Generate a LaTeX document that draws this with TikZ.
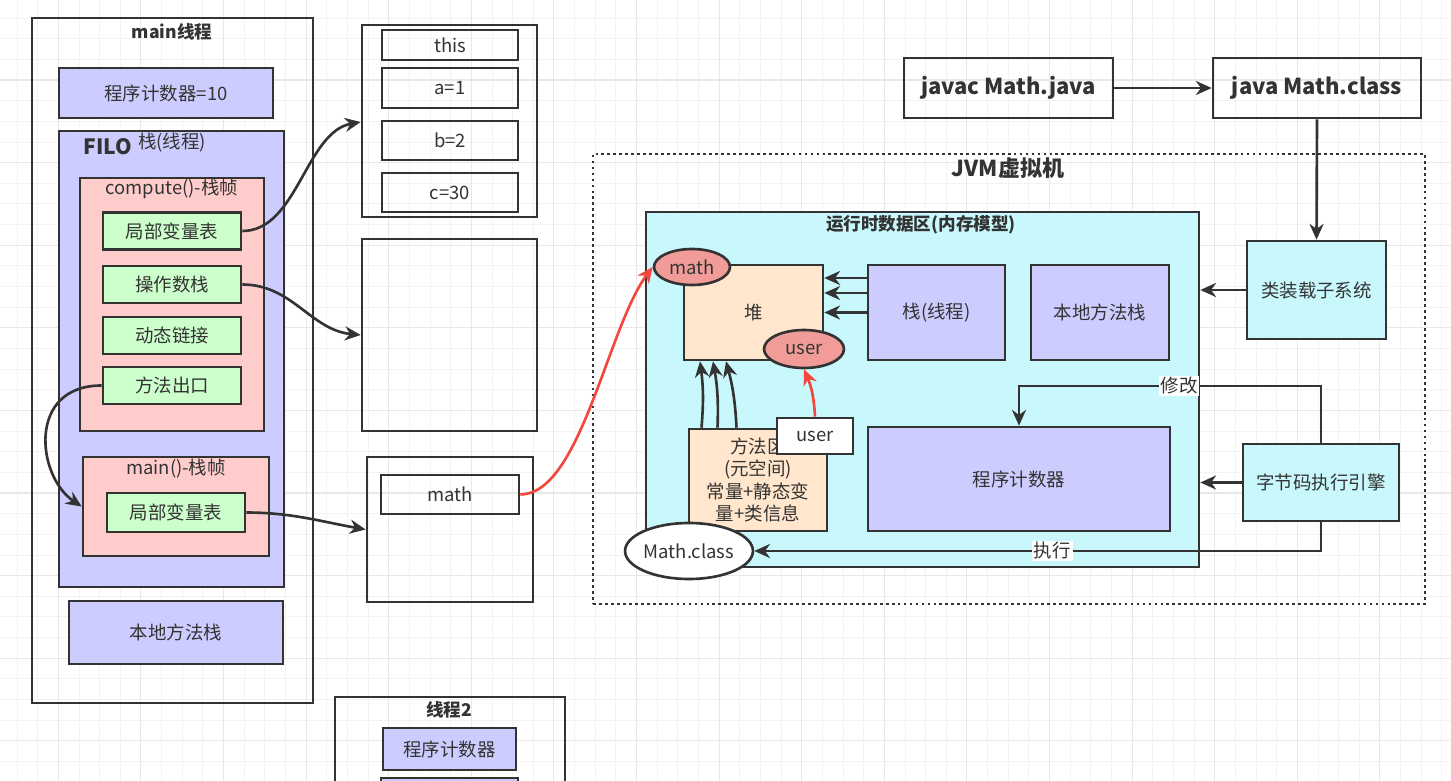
\documentclass[tikz,border=0pt]{standalone}
\usepackage{fontspec}
\setmainfont{Noto Sans CJK SC}
\usetikzlibrary{arrows.meta,shapes.geometric}
\definecolor{ink}{HTML}{333333}
\definecolor{lav}{HTML}{CCCCFF}
\definecolor{pnk}{HTML}{FFCCCC}
\definecolor{grn}{HTML}{CCFFCC}
\definecolor{cyn}{HTML}{C8F8FC}
\definecolor{pch}{HTML}{FFE6CC}
\definecolor{slm}{HTML}{F19C99}
\definecolor{redc}{HTML}{F4473B}
\definecolor{gmin}{HTML}{F3F3F3}
\definecolor{gmaj}{HTML}{E8E8E8}

\begin{document}
\begin{tikzpicture}[x=0.02cm,y=-0.02cm,line width=1.5pt,>={Stealth[length=9pt,width=8pt]},
  wh/.style 2 args={minimum width=#1*0.02cm,minimum height=#2*0.02cm},
  box/.style={draw=ink,text=ink,font=\fontsize{10.5}{12}\selectfont,inner sep=0pt},
  oval/.style={box,ellipse},
  lbl/.style={text=ink,font=\fontsize{10.5}{12}\selectfont,inner sep=0pt},
  ttl/.style={text=ink,font=\bfseries\fontsize{10}{12}\selectfont,inner sep=0pt},
  bigttl/.style={text=ink,font=\bfseries\fontsize{12.5}{14}\selectfont},
  tag/.style={lbl,fill=white,inner sep=1pt},
  conn/.style={draw=ink,->},
  redconn/.style={draw=redc,->}]
\clip (0,0) rectangle (1451,781);
\fill[white] (0,0) rectangle (1451,781);
% grid
\foreach \k in {0,...,70}{\draw[gmin,line width=0.5pt] ({17+20.65*\k},0) -- ++(0,781);};
\foreach \k in {0,...,38}{\draw[gmin,line width=0.5pt] (0,{-2.6+20.65*\k}) -- ++(1451,0);};
\foreach \k in {0,...,17}{\draw[gmaj,line width=0.6pt] ({58.3+82.6*\k},0) -- ++(0,781);};
\foreach \k in {0,...,9}{\draw[gmaj,line width=0.6pt] (0,{-2.6+82.6*\k}) -- ++(1451,0);};

% main thread
\node[box,wh={281}{685}] (mainth) at (172.5,360.5) {};
\node[ttl] (mainttl) at (172,32) {main线程};
\node[box,fill=lav,wh={214}{50}] (pcten) at (166,93) {程序计数器=10};
\node[box,fill=lav,wh={225}{456}] (stk) at (171.5,359) {};
\node[ttl,font=\bfseries\fontsize{12}{14}\selectfont] (filo) at (108,147) {FILO};
\node[lbl] (stkttl) at (172,143) {栈(线程)};
\node[box,fill=pnk,wh={184}{253}] (cframe) at (172,304.5) {};
\node[lbl] (cttl) at (172,189) {compute()-栈帧};
\foreach \n/\t/\y in {lvt/局部变量表/231,ops/操作数栈/284.5,dyn/动态链接/335.5,ret/方法出口/385.5}
  \node[box,fill=grn,wh={138}{37}] (\n) at (172,\y) {\t};
\node[box,fill=pnk,wh={186}{99}] (mframe) at (176,506.5) {};
\node[lbl] (mttl) at (176,469) {main()-栈帧};
\node[box,fill=grn,wh={138}{39}] (mlvt) at (176,512.5) {局部变量表};
\node[box,fill=lav,wh={214}{63}] (natv) at (176,632.5) {本地方法栈};

% frames contents
\node[box,wh={175}{192}] (vars) at (449.5,121) {};
\foreach \n/\t/\y/\h in {vthis/this/45/30,va/a=1/88/40,vb/b=2/140.5/39,vc/c=30/192.5/39}
  \node[box,wh={136}{\h}] (\n) at (450,\y) {\t};
\node[box,wh={175}{192}] (opsbox) at (449.5,335) {};
\node[box,wh={166}{145}] (refbox) at (450,529.5) {};
\node[box,wh={138}{39}] (mref) at (450,494.5) {math};

% thread 2
\node[box,wh={230}{110}] (thrtwo) at (450,752) {};
\node[ttl] (thrttl) at (449,710) {线程2};
\node[box,fill=lav,wh={133}{42}] (pctwo) at (449.5,749) {程序计数器};
\node[box,fill=lav,wh={137}{44}] (stktwo) at (449.5,800) {};

% JVM
\node[draw=ink,dash pattern=on 1.6pt off 1.8pt,line width=1.4pt,wh={832}{450}] (jvm) at (1009,379) {};
\node[ttl,font=\bfseries\fontsize{12.5}{14}\selectfont] (jvmttl) at (1008,168) {JVM虚拟机};
\node[box,fill=cyn,wh={553}{355}] (rda) at (922.5,389.5) {};
\node[ttl] (rdattl) at (921,225) {运行时数据区(内存模型)};
\node[box,fill=pch,wh={139}{95}] (heap) at (753.5,312.5) {堆};
\node[oval,fill=slm,wh={76}{36}] (mathe) at (692,267) {math};
\node[oval,fill=slm,wh={80}{38}] (usere) at (804,349) {user};
\node[box,fill=lav,wh={137}{95}] (tstk) at (936.5,312.5) {栈(线程)};
\node[box,fill=lav,wh={138}{95}] (nstk) at (1100,312.5) {本地方法栈};
\node[box,fill=pch,wh={138}{102},align=center,font=\fontsize{10.5}{12.6}\selectfont] (meta) at (758,480) {方法区\\(元空间)\\常量+静态变\\量+类信息};
\node[box,fill=white,wh={76}{36}] (userb) at (815,436) {user};
\node[box,fill=lav,wh={302}{104}] (pc) at (1019,479) {程序计数器};
\node[oval,fill=white,wh={124}{56}] (mclass) at (689,551) {Math.class};
\node[box,fill=cyn,wh={139}{98}] (loader) at (1316.5,290) {类装载子系统};
\node[box,fill=cyn,wh={156}{77}] (engine) at (1321,482.5) {字节码执行引擎};
\node[box,bigttl,wh={209}{60}] (javac) at (1008.5,88) {javac Math.java};
\node[box,bigttl,wh={208}{60}] (java) at (1317,88) {java Math.class};

% connectors
\draw[conn] (lvt.east) .. controls +(55,0) and +(-55,10) .. (vars.west |- 0,122);
\draw[conn] (ops.east) .. controls +(50,0) and +(-50,-5) .. (opsbox.west);
\draw[conn] (ret.west) .. controls +(-75,0) and +(-45,-30) .. (mframe.west);
\draw[conn] (mlvt.east) .. controls +(45,0) and +(-45,-8) .. (refbox.west);
\draw[redconn] (mref.east) .. controls +(60,0) and +(-45,60) .. (mathe.west);
\foreach \s in {0.69,0.39,0}{\draw[conn] ([yshift=\s cm]tstk.west) -- ([yshift=\s cm]heap.east);};
\foreach \a/\b in {-1.13/-1.07,-0.81/-0.81,-0.43/-0.55}{\draw[conn] ([xshift=\a cm]meta.north) to[bend right=6] ([xshift=\b cm]heap.south);};
\draw[redconn] (userb.north) to[bend right=10] (usere.south);
\draw[conn] (javac.east) -- (java.west);
\draw[conn] (java.south) -- (loader.north);
\draw[conn] (loader.west) -- (loader.west -| rda.east);
\draw[conn] (engine.west) -- (engine.west -| rda.east);
\coordinate (turn) at (1019,386);
\draw[conn] (engine.north) |- (turn) node[tag,pos=0.735]{修改} -- (pc.north);
\draw[conn] (engine.south) |- (mclass.east) node[tag,pos=0.737]{执行};
\end{tikzpicture}
\end{document}
